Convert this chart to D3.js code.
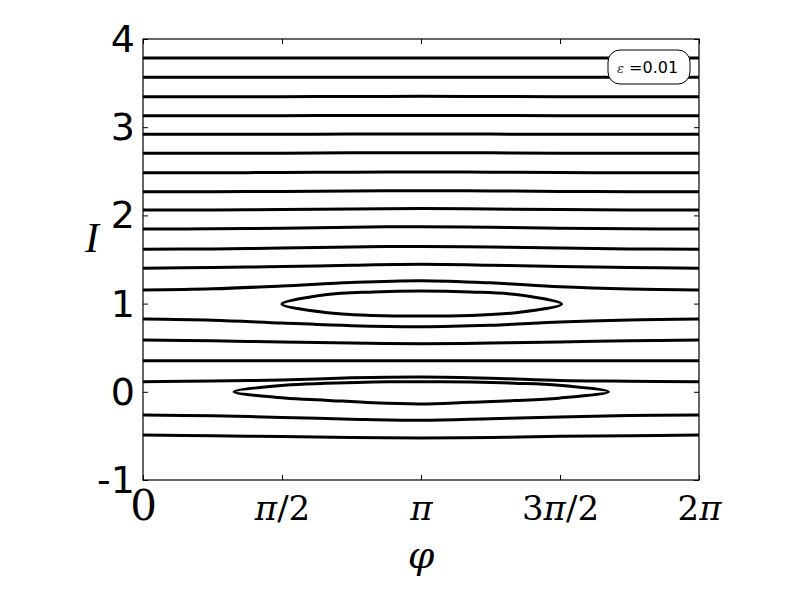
<!DOCTYPE html>
<html>
<head>
<meta charset="utf-8">
<script src="https://cdn.jsdelivr.net/npm/d3@7"></script>
<style>
    body { margin: 0; background: #fff; }
    svg { display: block; }
</style>
</head>
<body>
<div id="chart"></div>
<script>
// phase angle samples (0 .. 2pi) used by the open orbits
const phiGrid = [0, 0.785, 1.571, 2.356, 3.142, 3.927, 4.712, 5.498, 6.283]

// open (rotating) orbits, I value at each phiGrid sample
const openOrbits = [
    [3.785, 3.785, 3.785, 3.785, 3.785, 3.785, 3.785, 3.785, 3.785],
    [3.566, 3.566, 3.566, 3.566, 3.566, 3.566, 3.566, 3.566, 3.566],
    [3.346, 3.346, 3.346, 3.348, 3.350, 3.348, 3.346, 3.346, 3.346],
    [3.130, 3.130, 3.131, 3.133, 3.134, 3.133, 3.131, 3.130, 3.130],
    [2.919, 2.919, 2.920, 2.922, 2.924, 2.922, 2.920, 2.919, 2.919],
    [2.704, 2.704, 2.706, 2.709, 2.711, 2.709, 2.706, 2.704, 2.704],
    [2.484, 2.484, 2.486, 2.490, 2.492, 2.490, 2.486, 2.484, 2.484],
    [2.269, 2.269, 2.272, 2.277, 2.280, 2.277, 2.272, 2.269, 2.269],
    [2.061, 2.062, 2.066, 2.073, 2.078, 2.073, 2.066, 2.062, 2.061],
    [1.846, 1.848, 1.855, 1.866, 1.872, 1.866, 1.855, 1.848, 1.846],
    [1.616, 1.620, 1.630, 1.642, 1.648, 1.642, 1.630, 1.620, 1.616],
    [1.400, 1.410, 1.420, 1.435, 1.445, 1.435, 1.420, 1.410, 1.400],
    [1.154, 1.168, 1.200, 1.240, 1.260, 1.235, 1.190, 1.165, 1.154],
    [0.825, 0.812, 0.780, 0.750, 0.738, 0.755, 0.790, 0.815, 0.825],
    [0.587, 0.578, 0.565, 0.552, 0.545, 0.552, 0.565, 0.578, 0.587],
    [0.352, 0.352, 0.352, 0.352, 0.352, 0.352, 0.352, 0.352, 0.352],
    [0.115, 0.122, 0.134, 0.158, 0.168, 0.155, 0.128, 0.120, 0.115],
    [-0.263, -0.272, -0.290, -0.310, -0.322, -0.305, -0.285, -0.270, -0.263],
    [-0.490, -0.498, -0.508, -0.518, -0.525, -0.518, -0.505, -0.498, -0.490]
]

// closed (librating) orbits, [phi, I] points read round each island
const islandUpper = [
    [1.57, 0.995], [2.06, 1.100], [2.6, 1.132], [3.14, 1.143], [3.7, 1.132], [4.24, 1.100],
    [4.73, 0.995], [4.24, 0.900], [3.7, 0.866], [3.14, 0.858], [2.6, 0.866], [2.06, 0.900]
]
const islandLower = [
    [1.03, 0.0], [1.6, 0.075], [2.06, 0.096], [2.6, 0.110], [3.14, 0.115], [3.7, 0.110], [4.2, 0.098], [4.7, 0.075],
    [5.26, 0.0], [4.7, -0.072], [4.2, -0.100], [3.7, -0.118], [3.14, -0.138], [2.6, -0.125], [2.06, -0.095], [1.6, -0.070]
]

const xTickValues = [0, Math.PI / 2, Math.PI, 3 * Math.PI / 2, 2 * Math.PI]
const xTickLabels = ["0", "π/2", "π", "3π/2", "2π"]
const yTickValues = [-1, 0, 1, 2, 3, 4]
const epsLabel = "0.01"

const MARGIN = { LEFT: 143, RIGHT: 101, TOP: 39, BOTTOM: 120 }
const WIDTH = 800 - MARGIN.LEFT - MARGIN.RIGHT
const HEIGHT = 600 - MARGIN.TOP - MARGIN.BOTTOM

const svg = d3.select("#chart").append("svg")
    .attr("width", 800)
    .attr("height", 600)

const g = svg.append("g")
    .attr("transform", `translate(${MARGIN.LEFT}, ${MARGIN.TOP})`)

const x = d3.scaleLinear().domain([0, 2 * Math.PI]).range([0, WIDTH])
const y = d3.scaleLinear().domain([-1, 4]).range([HEIGHT, 0])

g.append("clipPath").attr("id", "plot-clip")
    .append("rect")
    .attr("width", WIDTH)
    .attr("height", HEIGHT)

const plot = g.append("g").attr("clip-path", "url(#plot-clip)")

const openLine = d3.line()
    .x((d, i) => x(phiGrid[i]))
    .y(d => y(d))
    .curve(d3.curveCatmullRom)

plot.selectAll(".orbit")
    .data(openOrbits)
    .enter().append("path")
    .attr("class", "orbit")
    .attr("d", openLine)
    .attr("fill", "none")
    .attr("stroke", "#000")
    .attr("stroke-width", 3)

const islandLine = d3.line()
    .x(d => x(d[0]))
    .y(d => y(d[1]))
    .curve(d3.curveCatmullRomClosed)

plot.selectAll(".island")
    .data([islandUpper, islandLower])
    .enter().append("path")
    .attr("class", "island")
    .attr("d", islandLine)
    .attr("fill", "none")
    .attr("stroke", "#000")
    .attr("stroke-width", 3)

// ticks point inward on all four sides
const yAxisCall = d3.axisLeft(y)
    .tickValues(yTickValues)
    .tickSizeInner(-5)
    .tickSizeOuter(0)
    .tickPadding(8)
    .tickFormat(d3.format("d"))
const yAxis = g.append("g").attr("class", "y axis").call(yAxisCall)
yAxis.selectAll("text")
    .attr("font-family", "'DejaVu Sans', sans-serif")
    .attr("font-size", "38px")
    .attr("fill", "#000")
    .attr("dy", "0.33em")
    .text(d => d < 0 ? "-" + Math.abs(d) : d)

g.append("g")
    .attr("transform", `translate(${WIDTH}, 0)`)
    .call(d3.axisRight(y).tickValues(yTickValues).tickSizeInner(-5).tickSizeOuter(0).tickFormat(""))

g.append("g")
    .call(d3.axisTop(x).tickValues(xTickValues).tickSizeInner(-5).tickSizeOuter(0).tickFormat(""))

const xAxisCall = d3.axisBottom(x)
    .tickValues(xTickValues)
    .tickSizeInner(-5)
    .tickSizeOuter(0)
    .tickFormat((d, i) => xTickLabels[i])
const xAxis = g.append("g")
    .attr("class", "x axis")
    .attr("transform", `translate(0, ${HEIGHT})`)
    .call(xAxisCall)

xAxis.selectAll("text").each(function (d, i) {
    const t = d3.select(this)
    const label = xTickLabels[i]
    t.text(null)
        .attr("y", 40)
        .attr("dy", 0)
        .attr("font-family", "'DejaVu Serif', serif")
        .attr("font-size", i === 0 ? "42px" : "34px")
        .attr("fill", "#000")
    label.split(/(π)/).filter(s => s.length).forEach(s => {
        t.append("tspan")
            .attr("font-style", s === "π" ? "italic" : "normal")
            .text(s)
    })
})

svg.selectAll(".domain").remove()
svg.selectAll(".tick line").attr("stroke", "#000").attr("stroke-width", 1)

// frame
g.append("rect")
    .attr("width", WIDTH)
    .attr("height", HEIGHT)
    .attr("fill", "none")
    .attr("stroke", "#000")
    .attr("stroke-width", 1.2)

// axis labels
svg.append("text")
    .attr("x", 92)
    .attr("y", 252)
    .attr("text-anchor", "middle")
    .attr("font-family", "'Liberation Serif', 'DejaVu Serif', serif")
    .attr("font-style", "italic")
    .attr("font-size", "42px")
    .text("I")

svg.append("text")
    .attr("x", MARGIN.LEFT + WIDTH / 2)
    .attr("y", 568)
    .attr("text-anchor", "middle")
    .attr("font-family", "'DejaVu Serif', serif")
    .attr("font-style", "italic")
    .attr("font-size", "38px")
    .text("φ")

// epsilon box
const legend = svg.append("g").attr("transform", "translate(608, 50)")
legend.append("rect")
    .attr("width", 82)
    .attr("height", 34)
    .attr("rx", 12)
    .attr("fill", "#fff")
    .attr("stroke", "#000")
    .attr("stroke-width", 1)
const legendText = legend.append("text")
    .attr("x", 9)
    .attr("y", 23)
    .attr("font-family", "'DejaVu Sans', sans-serif")
    .attr("font-size", "16px")
legendText.append("tspan")
    .attr("font-family", "'DejaVu Serif', serif")
    .attr("font-style", "italic")
    .attr("font-size", "13px")
    .attr("fill", "#333")
    .text("ε")
legendText.append("tspan").text(" =" + epsLabel)
</script>
</body>
</html>
